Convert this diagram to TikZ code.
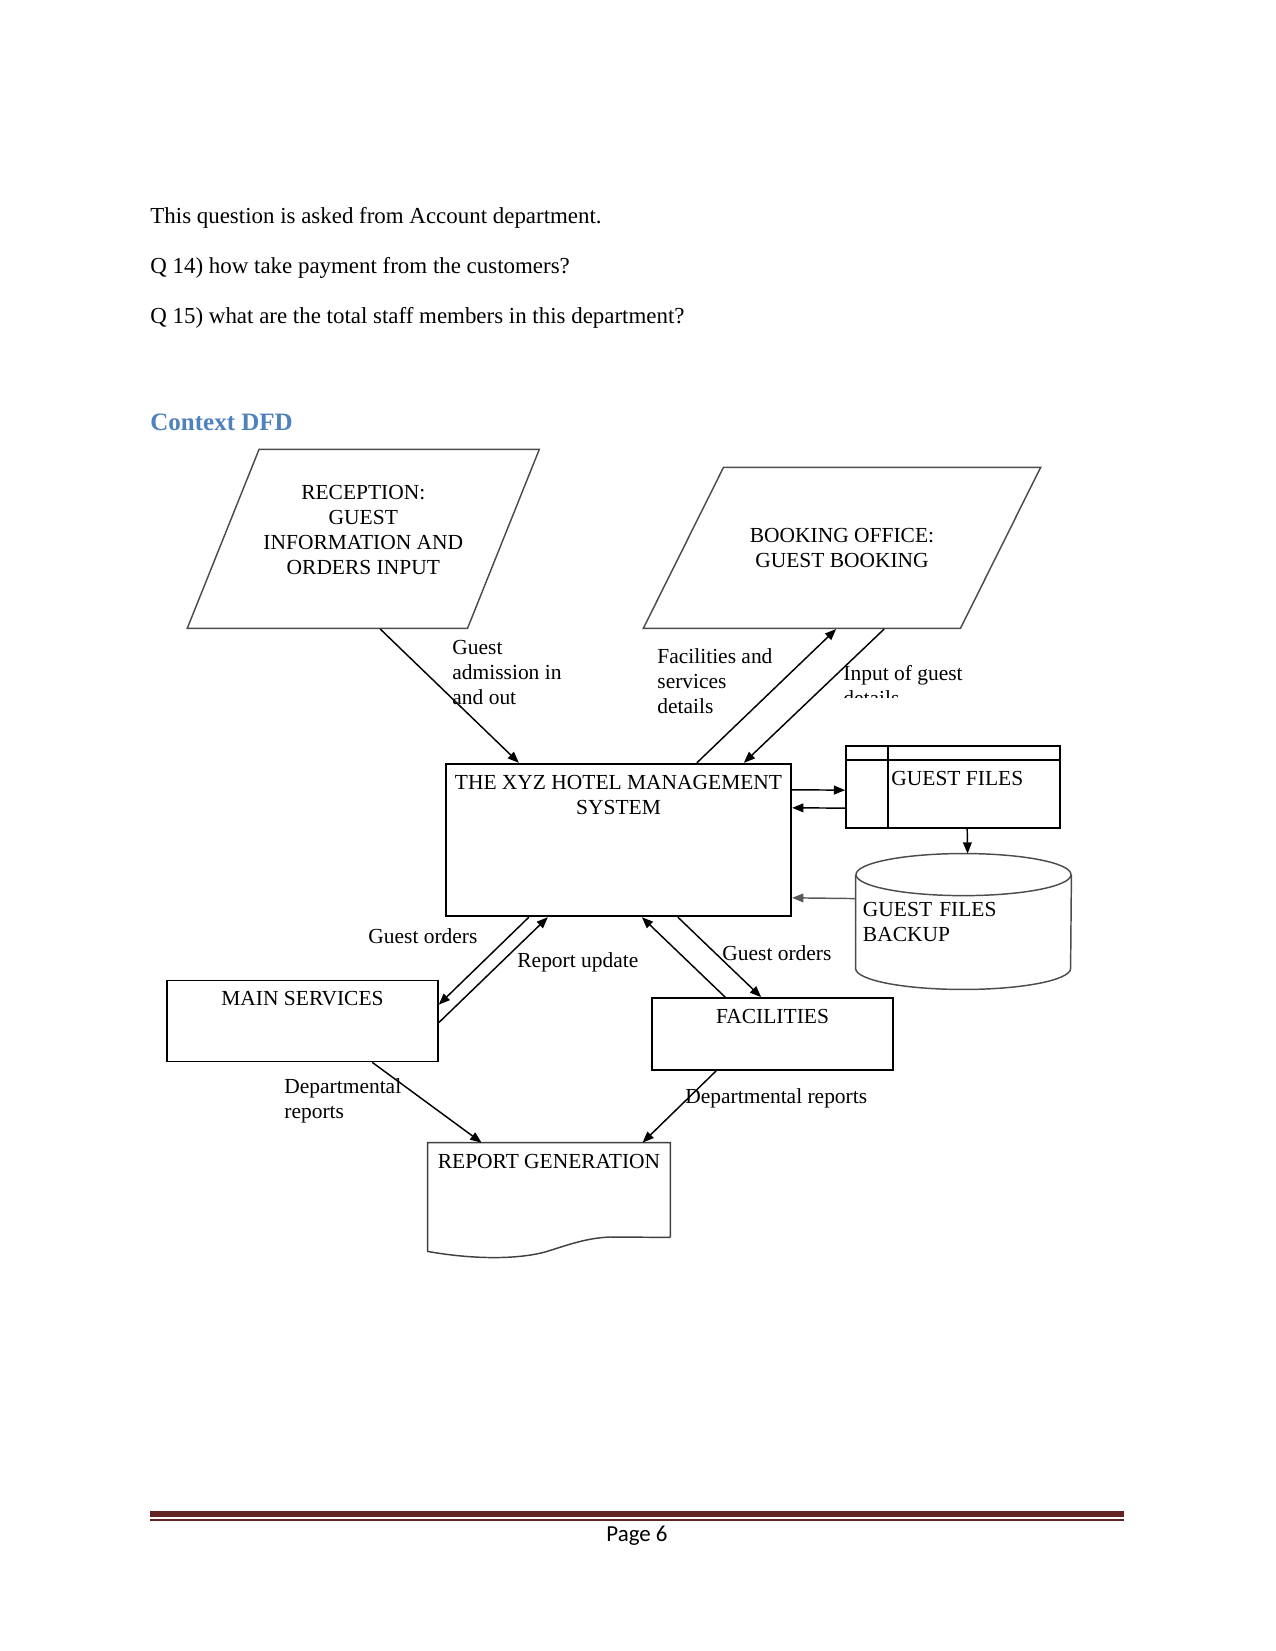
\documentclass[tikz,border=0pt]{standalone}
\usepackage{fontspec}
\setmainfont{Liberation Serif}
\newfontfamily\footfont{Carlito}
\usetikzlibrary{shapes.geometric,arrows.meta,calc}
\definecolor{headblue}{HTML}{4F81BD}
\definecolor{footred}{HTML}{632423}
\begin{document}
\begin{tikzpicture}[
  x=0.48pt, y=-0.48pt,
  every node/.style={font=\fontsize{10.3}{12}\selectfont},
  ptext/.style={anchor=base west, inner sep=0pt, font=\fontsize{11}{13}\selectfont},
  pflow/.style={anchor=west, inner sep=0pt, align=left},
  ptrap/.style={draw=black!70, line width=0.7pt, trapezium, trapezium stretches=true, inner sep=2pt},
  pbox/.style={draw, line width=0.8pt, inner sep=0pt},
  ptop/.style={label={[anchor=north, inner sep=0pt, yshift=-5.6pt, align=center]north:#1}},
  conn/.style={->, line width=0.7pt},
  >={Triangle[length=5.4pt, width=4.2pt]}
]
\useasboundingbox (0,0) rectangle (1275,1651);

% page text
\node[ptext] (q0) at (150,223) {This question is asked from Account department.};
\node[ptext] (q14) at (150,273) {Q 14) how take payment from the customers?};
\node[ptext] (q15) at (150,323) {Q 15) what are the total staff members in this department?};
\node[ptext, font=\fontsize{12}{14}\selectfont\bfseries, text=headblue] (head) at (150,430) {Context DFD};

% external entities
\node[ptrap, trapezium left angle=71, trapezium right angle=109,
      minimum width=169pt, minimum height=85.9pt,
      label={[align=center, yshift=4.3pt]center:{RECEPTION:\\GUEST\\INFORMATION AND\\ORDERS INPUT}}] (rec) at (363.3,538.8) {};
\node[ptrap, trapezium left angle=71.3, trapezium right angle=108.7,
      minimum width=190.8pt, minimum height=77.3pt,
      label={[align=center]center:{BOOKING OFFICE:\\GUEST BOOKING}}] (bok) at (842,547.8) {};

% processes
\node[pbox, line width=1.1pt, minimum width=165.6pt, minimum height=73pt,
      ptop={THE XYZ HOTEL MANAGEMENT\\SYSTEM}] (sys) at (618.5,840) {};
\node[pbox, minimum width=130pt, minimum height=38.9pt, ptop={MAIN SERVICES}] (ms) at (302.5,1021) {};
\node[pbox, minimum width=115.7pt, minimum height=34.6pt, ptop={FACILITIES}] (fac) at (772.5,1034) {};

% data stores
\node[pbox, minimum width=102.7pt, minimum height=39.4pt,
      label={[anchor=north west, inner sep=0pt, xshift=22pt, yshift=-12.5pt]north west:GUEST FILES}] (gf) at (953,787) {};
\draw[line width=0.8pt] ($(gf.north west)+(0,15)$) -- ($(gf.north east)+(0,15)$);
\draw[line width=0.8pt] ($(gf.north west)+(43,0)$) -- ($(gf.south west)+(43,0)$);

\node[inner sep=0pt, minimum width=103.2pt, minimum height=64.8pt, text width=96.5pt, align=left] (bak) at (963.5,921.5) {GUEST FILES\\BACKUP};
\draw[draw=black!70, line width=0.7pt] ($(bak.north west)+(0,21)$) -- ($(bak.south west)+(0,-21)$)
  arc[start angle=180, end angle=360, x radius=51.6pt, y radius=10.1pt] -- ($(bak.north east)+(0,21)$);
\draw[draw=black!70, line width=0.7pt] ($(bak.north)+(0,21)$) ellipse[x radius=51.6pt, y radius=10.1pt];

% report
\node[inner sep=0pt, minimum width=116.2pt, minimum height=45.1pt, ptop={REPORT GENERATION}] (rep) at (549,1190) {};
\draw[draw=black!75, line width=0.7pt] (rep.south east) -- (rep.north east) -- (rep.north west) -- ($(rep.south west)+(0,14)$)
  .. controls (470,1259) and (515,1260) .. (545,1252)
  .. controls (565,1246) and (585,1238) .. (610,1237) -- (rep.south east);

% flows
\draw[conn] ($(rec.bottom left corner)+(194,0)$) -- ($(sys.north west)+(74,0)$);
\draw[conn] ($(sys.north west)+(252,0)$) -- ($(bok.bottom left corner)+(194,0)$);
\draw[conn] ($(bok.bottom left corner)+(242,0)$) -- ($(sys.north west)+(299,0)$);
\draw[conn] ($(sys.north east)+(0,27)$) -- ($(gf.north west)+(0,45)$);
\draw[conn] ($(gf.north west)+(0,63)$) -- ($(sys.north east)+(0,45)$);
\draw[conn] ($(gf.south west)+(122,0)$) -- ($(bak.north west)+(112,0)$);
\draw[conn, black!65] ($(bak.north west)+(0,45)$) -- ($(sys.north east)+(0,135)$);
\draw[conn] ($(sys.south west)+(84,0)$) -- ($(ms.north east)+(0,25)$);
\draw[conn] ($(ms.north east)+(0,43)$) -- ($(sys.south west)+(103,0)$);
\draw[conn] ($(fac.north west)+(74,0)$) -- ($(sys.south west)+(197,0)$);
\draw[conn] ($(sys.south west)+(233,0)$) -- ($(fac.north west)+(110,0)$);
\draw[conn] ($(ms.south west)+(206,0)$) -- ($(rep.north west)+(54,0)$);
\draw[conn] ($(fac.south west)+(65,0)$) -- ($(rep.north west)+(215,0)$);

% flow labels
\node[pflow] (adm) at (452,672) {Guest\\admission in\\and out};
\node[pflow] (fsd) at (657,681) {Facilities and\\services\\details};
\begin{scope}
  \clip (830,655) rectangle (1000,697);
  \node[pflow] (inp) at (843,685.5) {Input of guest\\details};
\end{scope}
\node[pflow] (go1) at (368,936) {Guest orders};
\node[pflow] (rup) at (517,962) {Report update};
\node[pflow] (go2) at (722,953) {Guest orders};
\node[pflow] (dr1) at (284,1101) {Departmental\\reports};
\node[pflow] (dr2) at (685,1098) {Departmental reports};

% footer
\draw[footred, line width=2.7pt] (150,1514) -- (1124,1514);
\draw[footred, line width=0.6pt] (150,1520) -- (1124,1520);
\node[inner sep=0pt, font=\footfont\fontsize{11}{13}\selectfont] (page) at (637,1536) {Page 6};
\end{tikzpicture}
\end{document}
